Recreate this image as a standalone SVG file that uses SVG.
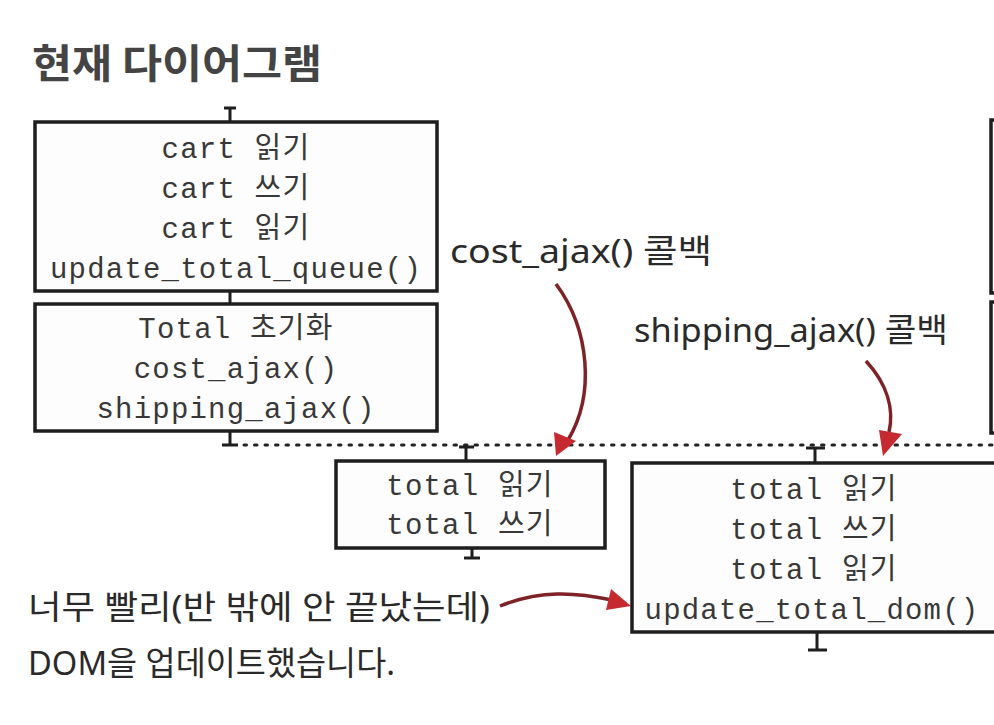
<svg xmlns="http://www.w3.org/2000/svg" width="994" height="725" viewBox="0 0 994 725">
<defs>
<style>
.box{fill:#fdfdfd;stroke:#1e1e1e;stroke-width:3.5}
.tk{stroke:#1e1e1e;stroke-width:3;fill:none}
.code{font-family:"Liberation Mono","Noto Sans CJK KR",monospace;font-size:29px;letter-spacing:1.2px;fill:#383838;text-anchor:middle}
.hand{font-family:"Noto Sans","Noto Sans CJK KR",sans-serif;font-size:33px;fill:#2a2a2a}
.title{font-family:"Noto Sans CJK KR",sans-serif;font-size:40px;font-weight:bold;fill:#444}
.red{stroke:#7e2228;stroke-width:3.5;fill:none}
.head{fill:#c42a30}
</style>
</defs>
<rect width="994" height="725" fill="#ffffff"/>
<text class="title" x="32" y="78" textLength="290" lengthAdjust="spacingAndGlyphs">현재 다이어그램</text>

<g id="edge-right">
<rect x="991" y="120" width="30" height="173" class="box"/>
<rect x="991" y="302" width="30" height="131" class="box"/>
</g>

<g id="connectors">
<path class="tk" d="M224,108 H236 M230,108 V122"/>
<path class="tk" d="M230,291 V304"/>
<path class="tk" d="M222,445 H238 M230,431 V445"/>
<line x1="244" y1="445" x2="994" y2="445" stroke="#222" stroke-width="3" stroke-dasharray="2.5 8" stroke-linecap="round"/>
<path class="tk" d="M459,447 H474 M466,447 V461"/>
<path class="tk" d="M464,558 H480 M472,548 V558"/>
<path class="tk" d="M806,448 H825 M815,448 V463"/>
<path class="tk" d="M808,650 H827 M817,632 V650"/>
<path class="red" d="M556,284 C590,330 595,395 568,440"/>
<path class="head" d="M556,456 L554,432 L576,441 Z"/>
<path class="red" d="M866,361 C888,385 894,410 889,432"/>
<path class="head" d="M883,456 L879,430 L902,434 Z"/>
<path class="red" d="M500,606 C540,590 575,592 612,600"/>
<path class="head" d="M631,606 L606,610 L611,589 Z"/>
</g>

<g id="node-cart">
<rect x="35" y="122" width="402" height="169" class="box"/>
<text class="code" x="236" y="158">cart 읽기</text>
<text class="code" x="236" y="198">cart 쓰기</text>
<text class="code" x="236" y="238">cart 읽기</text>
<text class="code" x="236" y="278">update_total_queue()</text>
</g>

<g id="node-init">
<rect x="35" y="304" width="402" height="127" class="box"/>
<text class="code" x="236" y="338">Total 초기화</text>
<text class="code" x="236" y="378">cost_ajax()</text>
<text class="code" x="236" y="418">shipping_ajax()</text>
</g>

<g id="node-cost-cb">
<rect x="336" y="461" width="269" height="87" class="box"/>
<text class="code" x="470" y="495">total 읽기</text>
<text class="code" x="470" y="534">total 쓰기</text>
</g>

<g id="node-ship-cb">
<rect x="632" y="463" width="380" height="169" class="box"/>
<text class="code" x="814" y="499">total 읽기</text>
<text class="code" x="814" y="539">total 쓰기</text>
<text class="code" x="814" y="579">total 읽기</text>
<text class="code" x="812" y="619">update_total_dom()</text>
</g>

<g id="labels">
<text class="hand" x="450" y="263" textLength="262" lengthAdjust="spacingAndGlyphs">cost_ajax() 콜백</text>
<text class="hand" x="634" y="342" textLength="314" lengthAdjust="spacingAndGlyphs">shipping_ajax() 콜백</text>
<text class="hand" x="28" y="619" textLength="462" lengthAdjust="spacingAndGlyphs">너무 빨리(반 밖에 안 끝났는데)</text>
<text class="hand" x="28" y="675" textLength="367" lengthAdjust="spacingAndGlyphs">DOM을 업데이트했습니다.</text>
</g>
</svg>
